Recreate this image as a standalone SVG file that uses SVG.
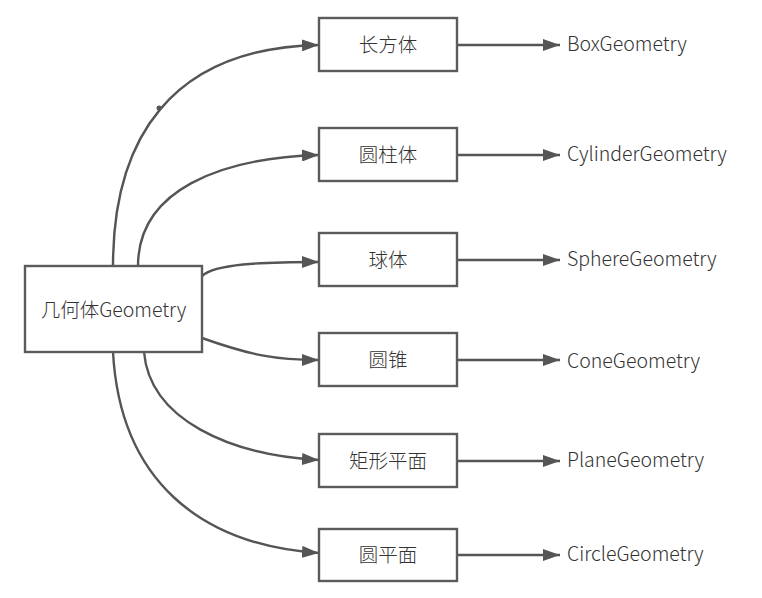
<svg xmlns="http://www.w3.org/2000/svg" width="762" height="598" viewBox="0 0 762 598">
<style>
.box{fill:#fff;stroke:#5b5b5b;stroke-width:2.4}
.ln{fill:none;stroke:#555;stroke-width:2.4}
.t{font-family:"Noto Sans CJK SC","Microsoft YaHei",sans-serif;font-size:19.5px;font-weight:300;fill:#333}
</style>
<defs>
<marker id="ar" markerUnits="userSpaceOnUse" viewBox="0 0 17 12" refX="17" refY="6" markerWidth="17" markerHeight="12" orient="auto">
<path d="M0,0 L17,6 L0,12 Z" fill="#555"/>
</marker>
</defs>
<rect width="762" height="598" fill="#fff"/>
<g id="connectors">
<path class="ln" d="M113,266 C113,140 170,48 319,45" marker-end="url(#ar)"/>
<circle cx="159" cy="108" r="2.5" fill="#555"/>
<path class="ln" d="M138,266 C138,190 220,158 319,155" marker-end="url(#ar)"/>
<path class="ln" d="M202,276 C215,264 260,262 319,262" marker-end="url(#ar)"/>
<path class="ln" d="M202,338 C250,355 275,360 319,360" marker-end="url(#ar)"/>
<path class="ln" d="M144,352 C150,420 230,455 319,460" marker-end="url(#ar)"/>
<path class="ln" d="M113,352 C120,480 200,545 319,553" marker-end="url(#ar)"/>
<path class="ln" d="M457,45 L560,45" marker-end="url(#ar)"/>
<path class="ln" d="M457,155 L560,155" marker-end="url(#ar)"/>
<path class="ln" d="M457,260 L560,260" marker-end="url(#ar)"/>
<path class="ln" d="M457,360 L560,360" marker-end="url(#ar)"/>
<path class="ln" d="M457,461 L560,461" marker-end="url(#ar)"/>
<path class="ln" d="M457,555 L560,555" marker-end="url(#ar)"/>
</g>
<g id="root"><rect class="box" x="25" y="266" width="177" height="86"/><text class="t" x="113.5" y="317" text-anchor="middle">几何体Geometry</text></g>
<g id="n1"><rect class="box" x="319" y="18" width="138" height="53"/><text class="t" x="388" y="52" text-anchor="middle">长方体</text></g>
<g id="n2"><rect class="box" x="319" y="128" width="138" height="53"/><text class="t" x="388" y="162" text-anchor="middle">圆柱体</text></g>
<g id="n3"><rect class="box" x="319" y="233" width="138" height="53"/><text class="t" x="388" y="267" text-anchor="middle">球体</text></g>
<g id="n4"><rect class="box" x="319" y="333" width="138" height="53"/><text class="t" x="388" y="367" text-anchor="middle">圆锥</text></g>
<g id="n5"><rect class="box" x="319" y="434" width="138" height="53"/><text class="t" x="388" y="468" text-anchor="middle">矩形平面</text></g>
<g id="n6"><rect class="box" x="319" y="529" width="138" height="52"/><text class="t" x="388" y="562" text-anchor="middle">圆平面</text></g>
<g id="labels">
<text class="t" x="567" y="51">BoxGeometry</text>
<text class="t" x="567" y="161">CylinderGeometry</text>
<text class="t" x="567" y="266">SphereGeometry</text>
<text class="t" x="567" y="368">ConeGeometry</text>
<text class="t" x="567" y="467">PlaneGeometry</text>
<text class="t" x="567" y="561">CircleGeometry</text>
</g>
</svg>
